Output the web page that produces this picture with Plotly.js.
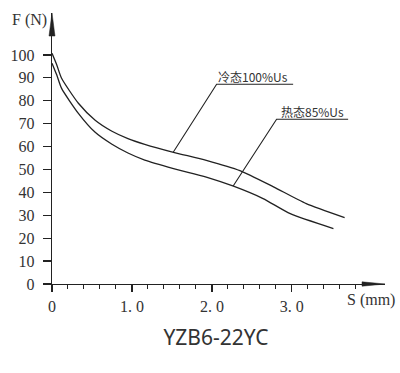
<!DOCTYPE html>
<html>
<head>
<meta charset="utf-8">
<script src="https://cdn.plot.ly/plotly-3.0.1.min.js"></script>
<style>html,body{margin:0;padding:0;background:#fff}#chart{width:400px;height:373px}</style>
</head>
<body>
<div id="chart"></div>
<script>
// Stroke S (mm) and force F (N)
var coldS = [0, 0.06, 0.12, 0.33, 0.54, 0.75, 0.95, 1.16, 1.52, 1.93, 2.35, 2.77, 3.18, 3.66];
var coldF = [100.7, 95.6, 89.8, 78.9, 71.5, 66.7, 63.5, 61, 57.5, 54, 49.5, 42.4, 35.1, 29];
var hotS  = [0, 0.06, 0.12, 0.33, 0.54, 0.75, 0.95, 1.16, 1.52, 1.93, 2.27, 2.64, 2.98, 3.52];
var hotF  = [96.4, 91.2, 85.4, 74.5, 66.2, 61, 57.2, 54.1, 50.4, 46.7, 42.7, 37.3, 30.7, 24.2];
var seriesNames = ["冷态100%Us", "热态85%Us"];
var xTickVals = [0, 1, 2, 3];
var xTickText = ["0", "1. 0", "2. 0", "3. 0"];
var yTickVals = [0, 10, 20, 30, 40, 50, 60, 70, 80, 90, 100];
var xMinorVals = [0.2, 0.4, 0.6, 0.8, 1.2, 1.4, 1.6, 1.8, 2.2, 2.4, 2.6, 2.8, 3.2, 3.4, 3.6, 3.8];
var chartTitle = "YZB6-22YC";

var ink = "#222";
var lineStyle = {color: ink, width: 1.3, shape: "spline", smoothing: 0.6};
var traces = [
  {x: coldS, y: coldF, mode: "lines", name: seriesNames[0], line: lineStyle, hoverinfo: "x+y"},
  {x: hotS, y: hotF, mode: "lines", name: seriesNames[1], line: lineStyle, hoverinfo: "x+y"}
];

var tickFont = {family: "Liberation Serif, Times New Roman, serif", size: 16, color: "#333"};

var layout = {
  width: 400, height: 373,
  margin: {l: 52, r: 15, t: 13, b: 89},
  paper_bgcolor: "#fff", plot_bgcolor: "#fff",
  showlegend: false,
  xaxis: {
    range: [0, 4.165], showgrid: false, zeroline: false,
    showline: true, linecolor: ink, linewidth: 1.3,
    tickmode: "array", tickvals: xTickVals, ticktext: xTickText,
    ticks: "outside", ticklen: 7, tickwidth: 1.2, tickcolor: ink,
    minor: {tickmode: "array", tickvals: xMinorVals, ticks: "outside", ticklen: 4, tickwidth: 1, tickcolor: ink, showgrid: false},
    tickfont: tickFont, ticklabelstandoff: 0
  },
  yaxis: {
    range: [0, 118.3], showgrid: false, zeroline: false,
    showline: true, linecolor: ink, linewidth: 1.3,
    tickmode: "array", tickvals: yTickVals,
    ticks: "outside", ticklen: 8, tickwidth: 1.2, tickcolor: ink,
    tickfont: tickFont, ticklabelstandoff: 5
  },
  title: {
    text: chartTitle, font: {family: "Noto Sans, sans-serif", size: 21, color: "#333"},
    x: 0.54, xanchor: "center", y: 1 - 338/373, yanchor: "middle"
  },
  shapes: [
    {type: "path", xref: "paper", yref: "paper", path: "M 0.931 0.008 L 1 0 L 0.931 -0.008 Z", fillcolor: ink, line: {color: ink, width: 0.5}},
    {type: "path", xref: "paper", yref: "paper", path: "M -0.009 0.915 L 0 1 L 0.009 0.915 Z", fillcolor: ink, line: {color: ink, width: 0.5}},
    {type: "path", xref: "x", yref: "y", path: "M 1.516 57.5 L 2.059 87.2 L 3.016 87.2", line: {color: ink, width: 1.1}},
    {type: "path", xref: "x", yref: "y", path: "M 2.266 42.8 L 2.809 71.9 L 3.704 71.9", line: {color: ink, width: 1.1}}
  ],
  annotations: [
    {text: seriesNames[0], x: 2.519, y: 90.6, xref: "x", yref: "y", showarrow: false, xanchor: "center", yanchor: "middle",
     font: {family: "Noto Sans CJK SC, sans-serif", size: 12, color: "#333"}},
    {text: seriesNames[1], x: 3.256, y: 75.3, xref: "x", yref: "y", showarrow: false, xanchor: "center", yanchor: "middle",
     font: {family: "Noto Sans CJK SC, sans-serif", size: 12, color: "#333"}},
    {text: "F (N)", xref: "paper", yref: "paper", x: (29 - 52) / 333, y: (284 - 20) / 271, showarrow: false,
     xanchor: "center", yanchor: "middle", font: tickFont},
    {text: "S (mm)", xref: "paper", yref: "paper", x: (371 - 52) / 333, y: (284 - 300) / 271, showarrow: false,
     xanchor: "center", yanchor: "middle", font: tickFont}
  ]
};

Plotly.newPlot("chart", traces, layout, {displayModeBar: false, staticPlot: true});
</script>
</body>
</html>
